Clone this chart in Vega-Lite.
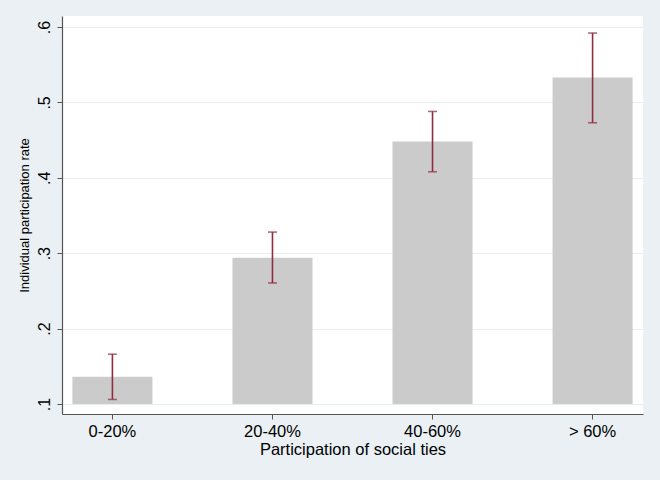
{
  "$schema": "https://vega.github.io/schema/vega-lite/v6.json",
  "autosize": {"type": "none"},
  "width": 581,
  "height": 398,
  "padding": {"left": 62, "top": 16, "right": 17, "bottom": 66},
  "background": "#EAF0F4",
  "config": {
    "font": "Liberation Sans",
    "view": {"fill": "#FFFFFF", "stroke": null}
  },
  "data": {
    "values": [
      {"group": "0-20%", "rate": 0.136, "lo": 0.106, "hi": 0.166},
      {"group": "20-40%", "rate": 0.294, "lo": 0.2605, "hi": 0.328},
      {"group": "40-60%", "rate": 0.448, "lo": 0.408, "hi": 0.488},
      {"group": "> 60%", "rate": 0.533, "lo": 0.473, "hi": 0.592}
    ]
  },
  "encoding": {
    "x": {
      "field": "group",
      "type": "nominal",
      "sort": null,
      "scale": {"paddingInner": 0.5, "paddingOuter": 0.065},
      "axis": {
        "title": "Participation of social ties",
        "titleFontSize": 16.5,
        "titleFontWeight": "normal",
        "titleColor": "#000000",
        "titlePadding": 2,
        "labelAngle": 0,
        "labelFontSize": 16.5,
        "labelColor": "#000000",
        "labelPadding": 4,
        "domainColor": "#555555",
        "domainWidth": 1.2,
        "tickColor": "#555555",
        "tickSize": 5,
        "grid": false
      }
    }
  },
  "layer": [
    {
      "mark": {"type": "bar", "color": "#CBCBCB"},
      "encoding": {
        "y": {
          "field": "rate",
          "type": "quantitative",
          "scale": {"domain": [0.0867, 0.6146], "nice": false, "zero": false},
          "axis": {
            "title": "Individual participation rate",
            "titleFontSize": 13,
            "titleFontWeight": "normal",
            "titleColor": "#000000",
            "titlePadding": 5,
            "values": [0.1, 0.2, 0.3, 0.4, 0.5, 0.6],
            "labelExpr": "replace(format(datum.value, '.1f'), '0.', '.')",
            "labelAngle": -90,
            "labelAlign": "center",
            "labelBaseline": "bottom",
            "labelFontSize": 16,
            "labelColor": "#000000",
            "labelPadding": 5,
            "domainColor": "#555555",
            "domainWidth": 1.2,
            "tickColor": "#555555",
            "tickSize": 5,
            "grid": true,
            "gridColor": "#E6EEF0",
            "gridWidth": 1
          }
        },
        "y2": {"datum": 0.1}
      }
    },
    {
      "mark": {"type": "rule", "color": "#8E2D3C", "strokeWidth": 1.6},
      "encoding": {
        "y": {"field": "lo", "type": "quantitative"},
        "y2": {"field": "hi"}
      }
    },
    {
      "mark": {"type": "tick", "color": "#8E2D3C", "size": 9, "thickness": 1.6, "orient": "horizontal"},
      "encoding": {
        "y": {"field": "lo", "type": "quantitative"}
      }
    },
    {
      "mark": {"type": "tick", "color": "#8E2D3C", "size": 9, "thickness": 1.6, "orient": "horizontal"},
      "encoding": {
        "y": {"field": "hi", "type": "quantitative"}
      }
    }
  ]
}
